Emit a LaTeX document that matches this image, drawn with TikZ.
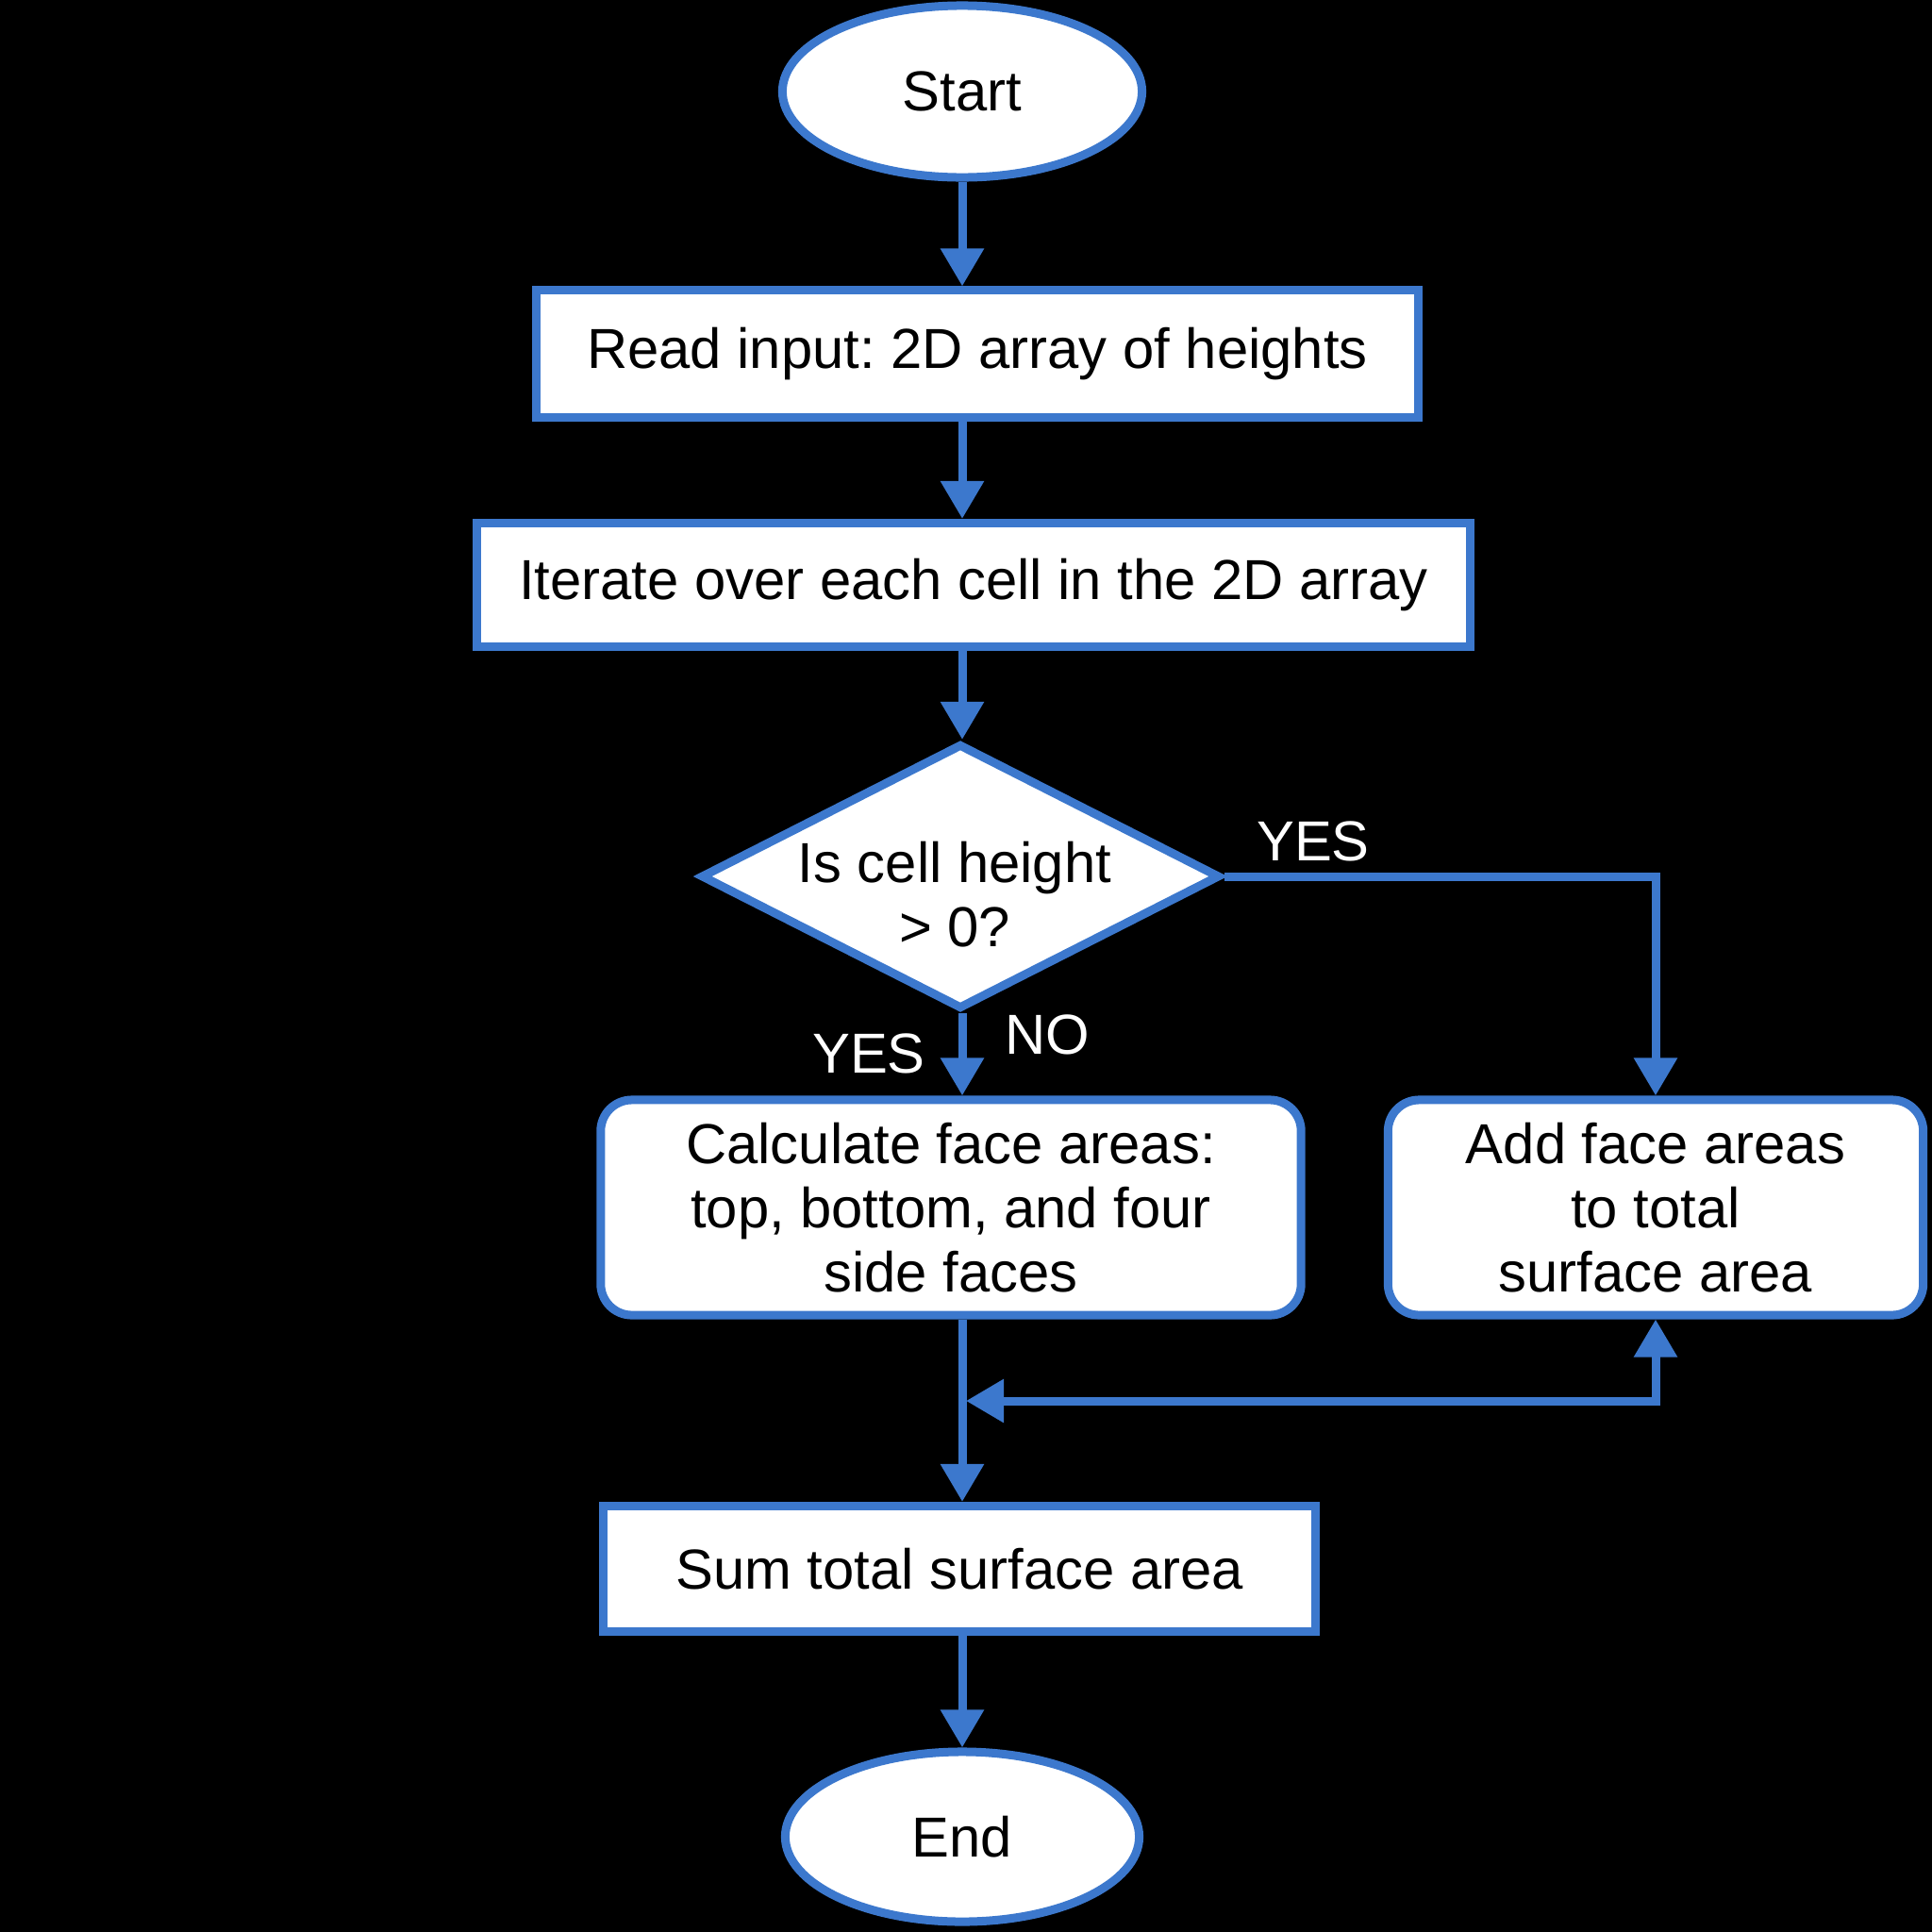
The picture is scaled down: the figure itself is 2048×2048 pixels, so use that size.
\documentclass[tikz,border=0pt]{standalone}
\usepackage{fontspec}
\setmainfont{Liberation Sans}
\usetikzlibrary{shapes.geometric,arrows.meta}
\definecolor{fblue}{RGB}{60,120,205}
\begin{document}
\frenchspacing
\begin{tikzpicture}[x=0.01cm,y=-0.01cm,
  box/.style={draw=fblue, line width=0.09cm, fill=white, inner sep=0pt, align=center,
    font=\fontsize{17}{19.4}\selectfont, text=black},
  term/.style={box, ellipse},
  proc/.style={box, rectangle},
  rproc/.style={box, rectangle, rounded corners=0.33cm},
  dec/.style={box, diamond},
  arr/.style={draw=fblue, line width=0.09cm, -{Triangle[length=0.4cm,width=0.44cm]}},
  arrb/.style={draw=fblue, line width=0.09cm, {Triangle[length=0.4cm,width=0.44cm]}-{Triangle[length=0.4cm,width=0.44cm]}},
  lbl/.style={text=white, inner sep=0pt, font=\fontsize{17}{19}\selectfont},
  dtext/.style={text=black, inner sep=0pt, align=center, font=\fontsize{17}{19.4}\selectfont}]
\fill[black] (0,0) rectangle (2048,2048);
\useasboundingbox (0,0) rectangle (2048,2048);

\node[term, minimum width=3.81cm, minimum height=1.82cm] (start) at (1020,97) {Start};
\node[proc, minimum width=9.35cm, minimum height=1.34cm] (read) at (1036,375) {Read input: 2D array of heights};
\node[proc, minimum width=10.52cm, minimum height=1.31cm] (iter) at (1032,620) {Iterate over each cell in the 2D array};
\node[dec, minimum width=5.50cm, minimum height=2.81cm] (dia) at (1018,929) {};
\node[dtext] (diatext) at (1012,948) {Is cell height\\> 0?};
\node[rproc, minimum width=7.42cm, minimum height=2.28cm] (calc) at (1008,1280) {Calculate face areas:\\top, bottom, and four\\side faces};
\node[rproc, minimum width=5.67cm, minimum height=2.28cm] (add) at (1755,1280) {Add face areas\\to total\\surface area};
\node[proc, minimum width=7.54cm, minimum height=1.33cm] (sum) at (1017,1663) {Sum total surface area};
\node[term, minimum width=3.75cm, minimum height=1.80cm] (end) at (1020,1947) {End};

\node[lbl] (yes1) at (1392,892) {YES};
\node[lbl] (yes2) at (921,1117) {YES};
\node[lbl] (no) at (1110,1097) {NO};

\draw[arr] (start.south) -- (read.north -| start.south);
\draw[arr] (read.south -| start.south) -- (iter.north -| start.south);
\draw[arr] (iter.south -| start.south) -- (start.south |- dia.north);
\draw[arr] (dia.south -| start.south) -- (calc.north -| start.south);
\draw[arr] (dia.east) -| (add.north);
\draw[arr] (calc.south -| start.south) -- (sum.north -| start.south);
\draw[arr] (sum.south -| start.south) -- (end.north);
\coordinate (j) at (1024,1485);
\draw[arrb] (j) -- (add.south |- j) -- (add.south);
\end{tikzpicture}
\end{document}
